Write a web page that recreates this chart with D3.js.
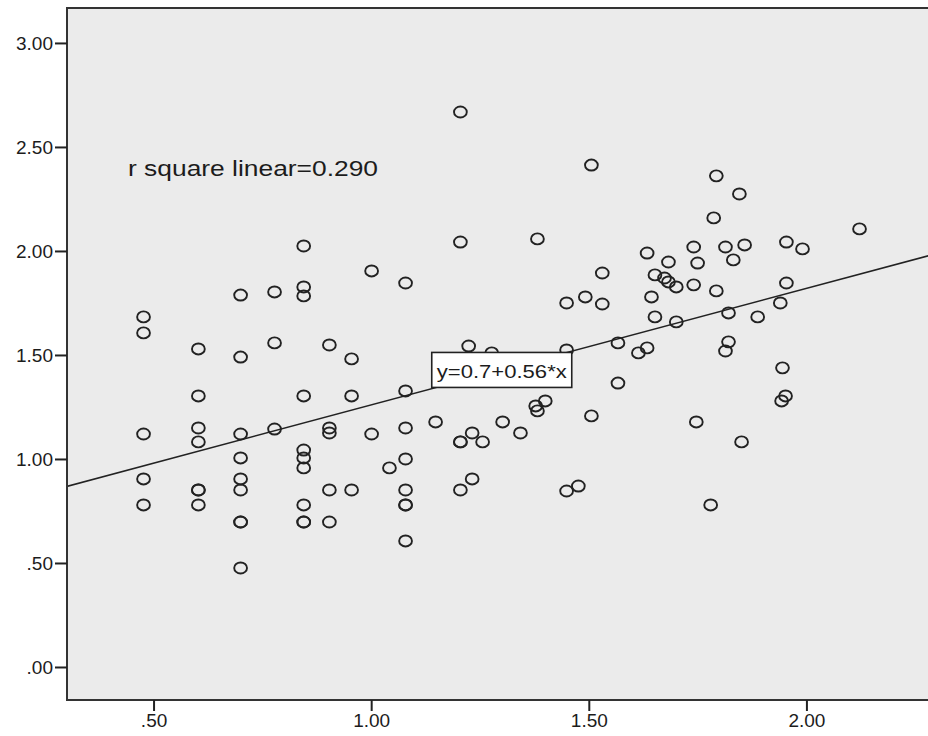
<!DOCTYPE html>
<html>
<head>
<meta charset="utf-8">
<script src="https://cdn.jsdelivr.net/npm/d3@7"></script>
<style>
  html, body { margin: 0; padding: 0; background: #fff; }
  svg { display: block; }
  text { font-family: "Liberation Sans", Arial, sans-serif; fill: #1c1c1c; }
</style>
</head>
<body>
<svg id="chart" width="928" height="736"></svg>
<script>
// ---- data ----
const xValues = [
  0.477,0.477,0.477,0.477,0.477,
  0.603,0.603,0.603,0.603,0.603,0.603,0.603,
  0.700,0.700,0.700,0.700,0.700,0.700,0.700,0.700,0.700,
  0.778,0.778,0.778,
  0.845,0.845,0.845,0.845,0.845,0.845,0.845,0.845,0.845,0.845,
  0.904,0.904,0.904,0.904,0.904,
  0.955,0.955,0.955,
  1.001,1.001,
  1.042,
  1.079,1.079,1.079,1.079,1.079,1.079,1.079,1.079,
  1.148,
  1.205,1.205,1.205,1.205,1.205,
  1.224,
  1.232,1.232,
  1.256,
  1.277,
  1.302,
  1.343,
  1.378,1.382,1.382,1.400,
  1.449,1.449,1.449,
  1.476,
  1.492,
  1.506,1.506,
  1.531,1.531,
  1.567,1.567,
  1.614,
  1.634,1.634,
  1.644,
  1.652,1.652,
  1.674,
  1.683,1.683,
  1.701,1.701,
  1.741,1.741,
  1.750,1.747,
  1.780,
  1.787,
  1.793,1.793,
  1.814,1.814,
  1.821,1.821,
  1.832,
  1.846,
  1.851,
  1.858,
  1.888,
  1.940,1.954,1.954,1.945,1.952,1.943,
  1.991,
  2.122
];
const yValues = [
  1.683,1.606,1.120,0.904,0.779,
  1.529,1.303,1.149,1.082,0.851,0.851,0.779,
  1.788,1.490,1.120,1.005,0.904,0.851,0.697,0.697,0.476,
  1.803,1.558,1.144,
  2.024,1.827,1.784,1.303,1.043,1.005,0.957,0.779,0.697,0.697,
  1.548,1.149,1.125,0.851,0.697,
  1.481,1.303,0.851,
  1.904,1.120,
  0.957,
  1.846,1.327,1.149,1.000,0.851,0.779,0.779,0.606,
  1.178,
  2.668,2.043,1.082,1.082,0.851,
  1.543,
  1.125,0.904,
  1.082,
  1.510,
  1.178,
  1.125,
  1.255,1.231,2.058,1.279,
  1.524,1.750,0.846,
  0.870,
  1.779,
  2.413,1.207,
  1.894,1.745,
  1.558,1.365,
  1.510,
  1.534,1.990,
  1.779,
  1.885,1.683,
  1.870,
  1.947,1.851,
  1.827,1.659,
  2.019,1.837,
  1.942,1.178,
  0.779,
  2.159,
  2.361,1.808,
  2.019,1.519,
  1.702,1.563,
  1.957,
  2.274,
  1.082,
  2.029,
  1.683,
  1.750,2.043,1.846,1.438,1.303,1.279,
  2.010,
  2.106
];
const xTicks = [0.5, 1.0, 1.5, 2.0];
const yTicks = [0.0, 0.5, 1.0, 1.5, 2.0, 2.5, 3.0];
const fitIntercept = 0.7;
const fitSlope = 0.56;
const rSquareLabel = "r square linear=0.290";
const equationLabel = "y=0.7+0.56*x";
const equationAtX = 1.30;

// ---- layout ----
const svg = d3.select("#chart");
const plotL = 67, plotT = 8, plotB = 700, plotR = 937;

const x = d3.scaleLinear().domain([0.3, 2.3]).range([plotL - 0.5, plotR]);
const y = d3.scaleLinear().domain([-0.1587, 3.168]).range([plotB, plotT]);

const fmt = v => d3.format(".2f")(v).replace(/^0\./, ".");

// plot background
svg.append("rect")
  .attr("x", plotL).attr("y", plotT)
  .attr("width", plotR - plotL).attr("height", plotB - plotT)
  .attr("fill", "#ebebeb");

// clip for marks
svg.append("clipPath").attr("id", "clip")
  .append("rect").attr("x", plotL).attr("y", plotT)
  .attr("width", plotR - plotL).attr("height", plotB - plotT);

const plot = svg.append("g").attr("clip-path", "url(#clip)");

// regression line
const lineX = x.domain();
plot.append("line")
  .attr("x1", x(lineX[0])).attr("y1", y(fitIntercept + fitSlope * lineX[0]))
  .attr("x2", x(lineX[1])).attr("y2", y(fitIntercept + fitSlope * lineX[1]))
  .attr("stroke", "#222").attr("stroke-width", 1.6);

// points
const pts = xValues.map((v, i) => ({x: v, y: yValues[i]}));
plot.selectAll("ellipse.pt").data(pts).join("ellipse")
  .attr("class", "pt")
  .attr("cx", d => x(d.x)).attr("cy", d => y(d.y))
  .attr("rx", 6.4).attr("ry", 5.5)
  .attr("fill", "none").attr("stroke", "#222").attr("stroke-width", 1.9);

// frame (left, top, bottom)
svg.append("path")
  .attr("d", `M${plotR},${plotT}H${plotL}V${plotB}H${plotR}`)
  .attr("fill", "none").attr("stroke", "#333").attr("stroke-width", 2);

// axes
const yAxis = d3.axisLeft(y).tickValues(yTicks).tickFormat(fmt).tickSize(12).tickPadding(2);
const gy = svg.append("g").attr("transform", `translate(${plotL},0)`).call(yAxis);
gy.select(".domain").remove();
gy.selectAll(".tick line").attr("stroke", "#222").attr("stroke-width", 2);
gy.selectAll(".tick text").attr("font-size", 19).attr("fill", "#1c1c1c")
  .attr("font-family", "Liberation Sans, Arial, sans-serif");

const xAxis = d3.axisBottom(x).tickValues(xTicks).tickFormat(fmt).tickSize(11).tickPadding(3);
const gx = svg.append("g").attr("transform", `translate(0,${plotB})`).call(xAxis);
gx.select(".domain").remove();
gx.selectAll(".tick line").attr("stroke", "#222").attr("stroke-width", 2);
gx.selectAll(".tick text").attr("font-size", 19).attr("fill", "#1c1c1c")
  .attr("font-family", "Liberation Sans, Arial, sans-serif");

// r square label
svg.append("text")
  .attr("x", 128).attr("y", 176)
  .attr("font-size", 22)
  .attr("textLength", 250).attr("lengthAdjust", "spacingAndGlyphs")
  .text(rSquareLabel);

// equation label box on the fit line
const ex = x(equationAtX), ey = y(fitIntercept + fitSlope * equationAtX);
const bw = 140, bh = 35;
svg.append("rect")
  .attr("x", ex - bw / 2).attr("y", ey - bh / 2)
  .attr("width", bw).attr("height", bh)
  .attr("fill", "#fff").attr("stroke", "#222").attr("stroke-width", 1.6);
svg.append("text")
  .attr("x", ex - 65).attr("y", ey + 8)
  .attr("font-size", 19)
  .attr("textLength", 130).attr("lengthAdjust", "spacingAndGlyphs")
  .text(equationLabel);
</script>
</body>
</html>
